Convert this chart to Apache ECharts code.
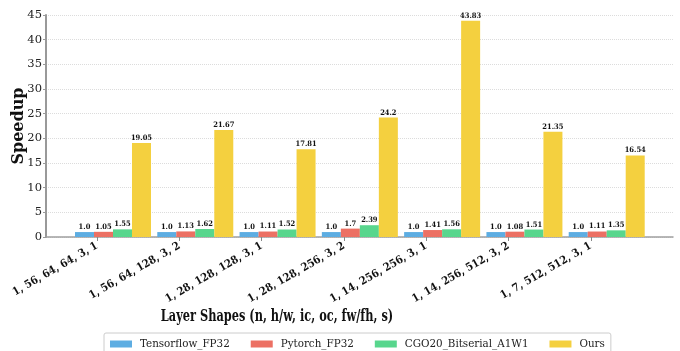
<!DOCTYPE html>
<html><head><meta charset="utf-8">
<script src="https://cdn.jsdelivr.net/npm/echarts@6/dist/echarts.min.js"></script>
<style>html,body{margin:0;padding:0;background:#fff}#c{width:680px;height:351px}</style>
</head><body><div id="c"></div>
<script>
const categories = ['1, 56, 64, 64, 3, 1','1, 56, 64, 128, 3, 2','1, 28, 128, 128, 3, 1','1, 28, 128, 256, 3, 2','1, 14, 256, 256, 3, 1','1, 14, 256, 512, 3, 2','1, 7, 512, 512, 3, 1'];
const seriesNames = ['Tensorflow_FP32','Pytorch_FP32','CGO20_Bitserial_A1W1','Ours'];
const tensorflow = [1.0,1.0,1.0,1.0,1.0,1.0,1.0];
const pytorch = [1.05,1.13,1.11,1.7,1.41,1.08,1.11];
const cgo20 = [1.55,1.62,1.52,2.39,1.56,1.51,1.35];
const ours = [19.05,21.67,17.81,24.2,43.83,21.35,16.54];
const colors = ['#5DADE2','#EC7063','#58D68D','#F4D03F'];

const serif = 'DejaVu Serif';
const serifC = '"DejaVu Serif Condensed", "DejaVu Serif"';
const gTop = 15, gBottom = 114;
const fmt = p => Number.isInteger(p.value) ? p.value.toFixed(1) : String(p.value);
const allData = [tensorflow, pytorch, cgo20, ours];

const chart = echarts.init(document.getElementById('c'), null, {renderer:'canvas'});
chart.setOption({
  animation: false,
  color: colors,
  grid: [
    {left: 46, right: 7, top: gTop, bottom: gBottom},
    {left: 71.85, width: 576, top: gTop, bottom: gBottom},
    {left: 56, width: 576, top: gTop, bottom: gBottom}
  ],
  xAxis: [
    {gridIndex:0, type:'value', min:0, max:1, axisLabel:{show:false}, axisTick:{show:false}, splitLine:{show:false},
     axisLine:{show:true, lineStyle:{color:'#a0a0a0', width:1.5}}},
    {gridIndex:1, type:'category', data:categories, axisLine:{show:false}, axisTick:{show:false}, axisLabel:{show:false}},
    {gridIndex:2, type:'category', data:categories, axisLine:{show:false},
     axisTick:{show:true, alignWithLabel:true, length:4, lineStyle:{color:'#888'}},
     axisLabel:{rotate:30, margin:8, fontFamily:serifC, fontWeight:'bold', fontSize:11, color:'#111'}}
  ],
  yAxis: [
    {gridIndex:0, type:'value', min:0, max:45, interval:5,
     axisLine:{show:true, lineStyle:{color:'#999', width:2}},
     axisTick:{show:true, length:3, lineStyle:{color:'#999'}},
     axisLabel:{fontFamily:serif, fontSize:11.5, color:'#222', margin:4},
     splitLine:{show:true, lineStyle:{type:'dotted', color:'#dcdcdc', width:1}}},
    {gridIndex:1, type:'value', min:0, max:45, show:false},
    {gridIndex:2, type:'value', min:0, max:45, show:false}
  ],
  legend: {
    data: seriesNames, left: 104, top: 333, itemWidth: 22, itemHeight: 7, itemGap: 21,
    padding: [5, 6, 5, 6], borderColor: '#ccc', borderWidth: 1, borderRadius: 2,
    icon: 'rect',
    textStyle: {fontFamily: serifC, fontSize: 11.5, color: '#222', padding: [0,0,0,3]}
  },
  graphic: [
    {type:'text', x:19, y:126, rotation:Math.PI/2,
     style:{text:'Speedup', font:'bold 16px "DejaVu Serif"', fill:'#111', align:'center', verticalAlign:'middle'}},
    {type:'text', x:277, y:317, scaleX:0.71,
     style:{text:'Layer Shapes (n, h/w, ic, oc, fw/fh, s)', font:'bold 16px "DejaVu Serif"', fill:'#111', align:'center', verticalAlign:'middle'}}
  ],
  series: seriesNames.map((name, i) => ({
    name: name, type: 'bar', xAxisIndex: 1, yAxisIndex: 1,
    data: allData[i], barWidth: 19, barGap: '0%',
    itemStyle: {color: colors[i]},
    label: {show: true, position: 'top', distance: 1, formatter: fmt,
            fontFamily: serifC, fontWeight: 'bold', fontSize: 7.5, color: '#111'}
  }))
});
</script></body></html>
